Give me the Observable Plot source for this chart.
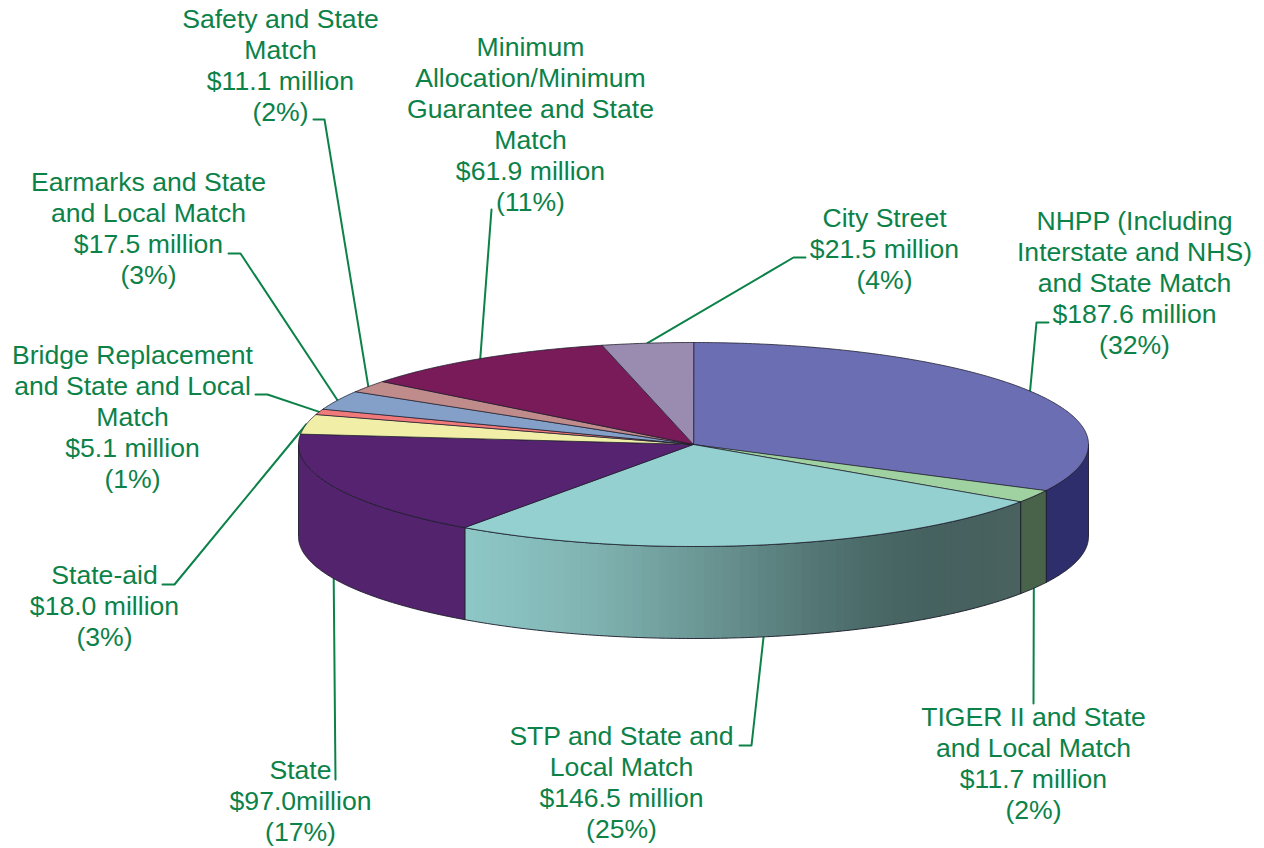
<!DOCTYPE html>
<html>
<head>
<meta charset="utf-8">
<style>html,body{margin:0;padding:0;background:#fff}svg{display:block}</style>
<script src="https://cdn.jsdelivr.net/npm/d3@7"></script>
<script src="https://cdn.jsdelivr.net/npm/@observablehq/plot@0.6"></script>
</head>
<body>
<div id="chart"></div>
<script>
// ---- chart values, clockwise from 12 o'clock
const sliceNames = ["NHPP", "TIGER II", "STP", "State", "State-aid", "Bridge Replacement", "Earmarks", "Safety", "Minimum Allocation/Minimum Guarantee", "City Street"];
const millions = [187.6, 11.7, 146.5, 97.0, 18.0, 5.1, 17.5, 11.1, 61.9, 21.5];
const labelTexts = [
  "NHPP (Including\nInterstate and NHS)\nand State Match\n$187.6 million\n(32%)",
  "TIGER II and State\nand Local Match\n$11.7 million\n(2%)",
  "STP and State and\nLocal Match\n$146.5 million\n(25%)",
  "State\n$97.0million\n(17%)",
  "State-aid\n$18.0 million\n(3%)",
  "Bridge Replacement\nand State and Local\nMatch\n$5.1 million\n(1%)",
  "Earmarks and State\nand Local Match\n$17.5 million\n(3%)",
  "Safety and State\nMatch\n$11.1 million\n(2%)",
  "Minimum\nAllocation/Minimum\nGuarantee and State\nMatch\n$61.9 million\n(11%)",
  "City Street\n$21.5 million\n(4%)"
];
const topColors = ["#6c6eb4", "#9fd2a0", "#94d0cf", "#55236f", "#f1eea8", "#f0797a", "#84a0c8", "#c08b8b", "#781b58", "#9a8cb0"];
const sideColors = ["#2f2e6c", "#49634a", null, "#54236e", "#f1eea8", "#f0797a", "#84a0c8", "#c08b8b", "#781b58", "#9a8cb0"];
const stpSideRamp = ["#8dc8c7", "#84b9b8", "#6f9c9a", "#587d7b", "#425f5d", "#49625f"];

// ---- layout (page pixels)
const labelX = [1134, 1033, 621, 300, 104, 132, 148, 280, 530, 884];
const labelTop = [207.3, 703.3, 722.3, 756.3, 561.3, 341.3, 168.3, 5.3, 33.3, 204.3];
const leaderBend = [[1036, 322], [1033, 703], [751, 745], [335, 779], [174, 584], [267, 394], [240, 253], [324, 119], [491, 209], [793, 257]];
const leaderTail = [[1048, 322], null, [739, 745], null, [162, 584], [255, 394], [228, 253], [313, 119], null, [805, 257]];
const cx = 693, cy = 444, rx = 395, ry = 102, depth = 92;
const ink = "#0c8249", edge = "#1c1c2a", fontSize = 26.6;

// ---- geometry from the values
const total = d3.sum(millions);
const cum = d3.cumsum(millions);
const slices = millions.map((v, i) => {
  const a1 = (cum[i] / total) * 2 * Math.PI;
  return {i, a0: a1 - (v / total) * 2 * Math.PI, a1, mid: a1 - (v / total) * Math.PI};
});
const pt = (a, z = 0) => ({x: cx + rx * Math.sin(a), y: cy - ry * Math.cos(a) + z});
const arc = (a0, a1, z = 0) => {
  const n = Math.max(2, Math.ceil(Math.abs(a1 - a0) / 0.01));
  return d3.range(n + 1).map(k => pt(a0 + (a1 - a0) * k / n, z));
};
const topPoly = s => [{x: cx, y: cy}, ...arc(s.a0, s.a1)];
const wall = (a0, a1) => [...arc(a0, a1), ...arc(a1, a0, depth)];
const frontStart = Math.PI / 2, frontEnd = 3 * Math.PI / 2;
const poly = (data, o) => Plot.line(data, {x: "x", y: "y", curve: "linear-closed", ...o});

const marks = [];

// leader lines run from each slice's rim midpoint out to its label
slices.forEach(s => {
  const front = s.mid > frontStart && s.mid < frontEnd;
  const path = [pt(s.mid, front ? depth : 0), leaderBend[s.i], leaderTail[s.i]]
    .filter(Boolean).map(p => Array.isArray(p) ? {x: p[0], y: p[1]} : p);
  marks.push(Plot.line(path, {x: "x", y: "y", stroke: ink, strokeWidth: 2}));
});

// side walls
const stpRamp = d3.interpolateRgbBasis(stpSideRamp);
slices.forEach(s => {
  const a0 = Math.max(s.a0, frontStart), a1 = Math.min(s.a1, frontEnd);
  if (a1 <= a0) return;
  if (sideColors[s.i]) {
    marks.push(poly(wall(a0, a1), {fill: sideColors[s.i], stroke: edge, strokeWidth: 0.9}));
  } else {
    // shaded wall: painted left to right, each band overlapping the previous one
    const n = 70;
    const step = (a1 - a0) / n;
    const xl = pt(a1).x, xr = pt(a0).x;
    d3.range(n).forEach(k => {
      const b1 = Math.min(a1, a1 - step * k + step * 0.6), b0 = a1 - step * (k + 1);
      const c = stpRamp((pt(b0 + step / 2).x - xl) / (xr - xl));
      marks.push(poly(wall(b0, b1), {fill: c}));
    });
    marks.push(poly(wall(a0, a1), {stroke: edge, strokeWidth: 0.9}));
  }
});

// top faces
slices.forEach(s => {
  marks.push(poly(topPoly(s), {fill: topColors[s.i], stroke: edge, strokeWidth: 0.9, strokeOpacity: 0.85}));
});

// labels
marks.push(Plot.text(labelTexts, {
  x: (d, i) => labelX[i],
  y: (d, i) => labelTop[i],
  text: d => d,
  lineAnchor: "top",
  lineHeight: 31 / fontSize,
  textAnchor: "middle",
  fontSize,
  fontFamily: "'Liberation Sans', Arial, sans-serif",
  fill: ink
}));

document.getElementById("chart").append(Plot.plot({
  width: 1264,
  height: 848,
  margin: 0,
  x: {domain: [0, 1264], range: [0, 1264], axis: null},
  y: {domain: [0, 848], range: [0, 848], axis: null},
  style: {background: "#fff"},
  marks
}));
</script>
</body>
</html>
